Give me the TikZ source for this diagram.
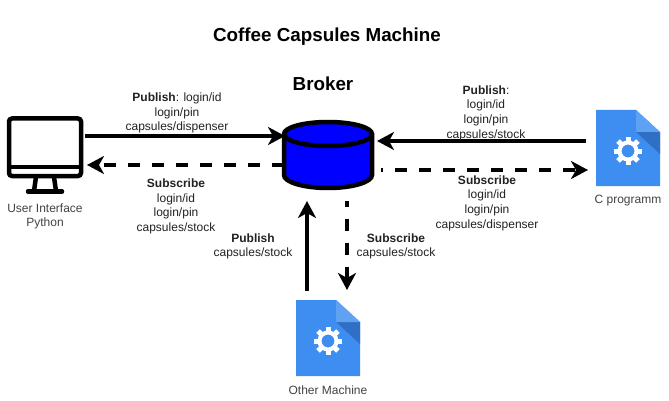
\documentclass[tikz,border=0pt]{standalone}
\usepackage{fontspec}
\setmainfont{Liberation Sans}
\usetikzlibrary{arrows.meta}
\definecolor{docblue}{HTML}{3D8EF0}
\definecolor{docfold}{HTML}{5FA2F3}
\definecolor{docshade}{HTML}{2F70C4}
\definecolor{txt}{HTML}{222222}
\newcommand{\docicon}[3]{%
  \begin{scope}[shift={(#1,#2)}]
    \fill[docblue] (0,0) -- (40,0) -- (64,22) -- (64,76) -- (0,76) -- cycle;
    \fill[docshade] (40,22) -- (64,22) -- (64,44) -- cycle;
    \fill[docfold] (40,0) -- (64,22) -- (40,22) -- cycle;
    \foreach \a in {0,45,...,315}
      \fill[white,rotate around={\a:(32,41)}] (29.5,27) rectangle (34.5,33);
    \draw[white,line width=4pt] (32,41) circle (8.5);
    \coordinate (#3) at (32,38);
  \end{scope}}
\tikzset{
  x=1pt,y=-1pt,
  flow/.style={line width=4pt,-{Stealth[length=17pt,width=18pt,inset=5pt]}},
  dflow/.style={flow,dash pattern=on 12pt off 12pt},
  lab/.style={align=center,font=\fontsize{12}{14.6}\selectfont,text=txt,inner sep=0pt},
  caplab/.style={align=center,font=\fontsize{12}{14.6}\selectfont,text=txt!85,inner sep=0pt},
  bigtxt/.style={font=\bfseries\fontsize{18.8}{22}\selectfont,inner sep=0pt}
}
\begin{document}
\begin{tikzpicture}
\useasboundingbox (0,0) rectangle (669,401);
\fill[white] (0,0) rectangle (669,401);
\node[bigtxt] (title) at (327,36.5) {Coffee Capsules Machine};
\node[bigtxt] (brokerlab) at (323,84) {Broker};
% connectors, under the shapes
\coordinate (a1s) at (85,136); \coordinate (a1e) at (285,136);
\coordinate (a2s) at (284,165); \coordinate (a2e) at (87,165);
\coordinate (a3s) at (586,141); \coordinate (a3e) at (377,141);
\coordinate (a4s) at (381,170); \coordinate (a4e) at (588,170);
\coordinate (a5s) at (307,291); \coordinate (a5e) at (307,201);
\coordinate (a6s) at (347,201); \coordinate (a6e) at (347,290);
\draw[flow] (a1s) -- (a1e);
\draw[dflow] (a2s) -- (a2e);
\draw[flow] (a3s) -- (a3e);
\draw[dflow,dash phase=10pt] (a4s) -- (a4e);
\draw[flow] (a5s) -- (a5e);
\draw[dflow,dash phase=6pt] (a6s) -- (a6e);
% monitor
\draw[line width=4.5pt,rounded corners=3pt,fill=white] (9,118.5) rectangle (81,176);
\draw[line width=4.5pt] (9,167) -- (81,167);
\draw[line width=4.5pt] (36,177) -- (34,191) (54,177) -- (56,191);
\draw[line width=4.5pt,line cap=round] (28,191.5) -- (62,191.5);
\coordinate (ui) at (45,150);
\node[caplab] (uilab) at (45,216.5) {User Interface\\Python};
% broker
\draw[line width=4.5pt,fill=blue] (284,134) -- (284,175) arc[start angle=180,end angle=0,x radius=44,y radius=13] -- (372,134) arc[start angle=0,end angle=-180,x radius=44,y radius=12] -- cycle;
\draw[line width=4.5pt] (284,134) arc[start angle=180,end angle=0,x radius=44,y radius=12];
\coordinate (broker) at (328,155);
% documents
\docicon{596}{110}{cprog}
\docicon{296}{300}{other}
\node[caplab] (cproglab) at (628,201) {C programm};
\node[caplab] (otherlab) at (328,390.5) {Other Machine};
% labels
\node[lab] (l1) at (177,113) {\textbf{Publish}: login/id\\login/pin\\capsules/dispenser};
\node[lab] (l2) at (176,206.5) {\textbf{Subscribe}\\login/id\\login/pin\\capsules/stock};
\node[lab] (l3) at (486,113) {\textbf{Publish}:\\login/id\\login/pin\\capsules/stock};
\node[lab] (l4) at (487,203) {\textbf{Subscribe}\\login/id\\login/pin\\capsules/dispenser};
\node[lab] (l5) at (253,246.5) {\textbf{Publish}\\capsules/stock};
\node[lab] (l6) at (396,246.5) {\textbf{Subscribe}\\capsules/stock};
\end{tikzpicture}
\end{document}
